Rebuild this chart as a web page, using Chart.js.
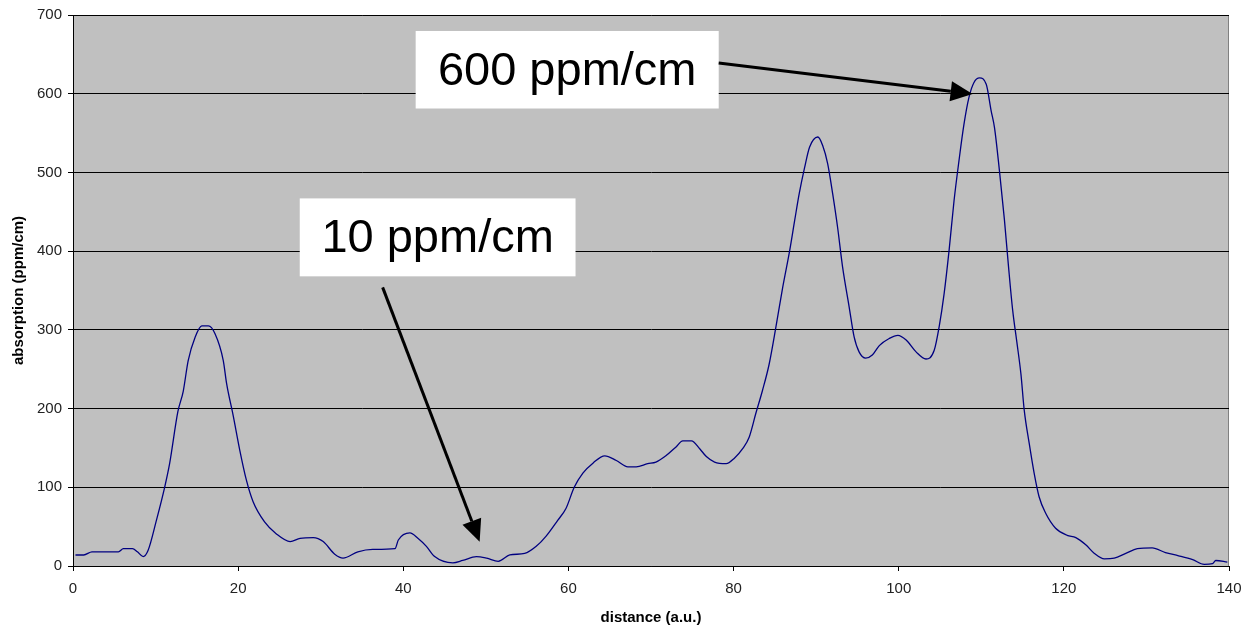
<!DOCTYPE html>
<html>
<head>
<meta charset="utf-8">
<script src="https://cdn.jsdelivr.net/npm/chart.js@4.4.0/dist/chart.umd.min.js"></script>
<style>
    html, body { margin: 0; padding: 0; background: #fff; }
    #wrap { width: 1243px; height: 627px; }
</style>
</head>
<body>
<div id="wrap"><canvas id="absChart" width="1243" height="627"></canvas></div>
<script>
// ============================================
// DATOS
// ============================================

const distance = [
    0.3, 1.3, 2.3, 5.5, 6.1, 7.2, 7.8, 8.5, 9.1, 10.1, 11.1, 11.7, 12.7, 13.35, 13.95,
    14.8, 15.6, 16.4, 17.2, 18.2, 18.6, 19.4, 20.2, 21.0, 21.8, 23.2, 24.6, 26.3,
    27.5, 29.1, 30.3, 31.7, 32.7, 34.5, 36.3, 39.0, 39.4, 40.8, 41.8, 42.8, 43.8,
    46.0, 47.2, 48.85, 50.1, 51.5, 52.9, 54.7, 56.1, 57.3, 58.7, 59.7, 60.7, 61.75,
    63.0, 64.4, 65.8, 67.2, 68.2, 69.6, 70.6, 71.8, 73.0, 73.85, 74.9, 75.9, 76.7,
    77.7, 79.1, 80.1, 81.1, 81.9, 82.7, 83.5, 84.3, 85.15, 85.95, 86.8, 87.4, 87.95,
    88.6, 89.2, 90.2, 90.8, 91.4, 92.0, 92.6, 93.2, 94.0, 94.6, 95.2, 96.0, 96.8,
    97.65, 98.85, 99.9, 100.9, 102.1, 103.3, 104.3, 104.9, 105.5, 106.1, 106.7,
    107.3, 107.9, 108.5, 109.1, 109.8, 110.6, 111.2, 111.6, 112.2, 112.8, 113.3,
    113.8, 114.3, 114.8, 115.2, 115.8, 116.4, 117.0, 117.8, 119.0, 120.4, 121.45,
    122.65, 123.7, 124.9, 126.1, 127.5, 128.9, 130.7, 132.3, 133.9, 135.6, 137.0,
    138.0, 138.4, 139.8
];

const absorption = [
    14, 14, 18, 18, 22, 22, 18, 12, 20, 58, 100, 130, 196, 222, 261,
    291, 305, 305, 295, 261, 232, 191, 147, 109, 82, 56, 41, 31,
    35, 36, 31, 15, 10, 18, 21, 22, 33, 42, 35, 25, 12,
    4, 7, 12, 10, 6, 14, 16, 25, 38, 58, 73, 100, 118,
    131, 140, 134, 126, 126, 130, 132, 140, 151, 159, 159, 149, 139,
    132, 130, 137, 149, 164, 194, 223, 256, 305, 354, 401, 439, 473,
    506, 532, 545, 534, 511, 473, 430, 380, 329, 291, 272, 264, 268,
    280, 289, 293, 287, 272, 263, 274, 304, 346, 401, 464,
    515, 561, 595, 614, 620, 612, 578, 557, 502, 440, 380,
    325, 285, 244, 198, 156, 118, 88, 67, 48, 39, 36,
    27, 16, 9, 10, 16, 22, 23, 17, 13, 8, 2,
    3, 7, 5
];

const xTicks = [0, 20, 40, 60, 80, 100, 120, 140];
const yTicks = [0, 100, 200, 300, 400, 500, 600, 700];

const xTitle = 'distance (a.u.)';
const yTitle = 'absorption (ppm/cm)';

// Notas: cajas y flechas en coordenadas de datos
const callouts = [
    { text: '600 ppm/cm', box: [41.5, 679.7, 78.2, 581.2], from: [78.2, 639], to: [108.95, 599.7] },
    { text: '10 ppm/cm', box: [27.46, 467, 60.86, 368], from: [37.5, 354], to: [49.25, 30.8] }
];

const FONT = '"Liberation Sans", Arial, sans-serif';

// ============================================
// PLUGINS
// ============================================

const plotBackground = {
    id: 'plotBackground',
    beforeDraw(chart) {
        const { ctx, chartArea: a } = chart;
        ctx.save();
        ctx.fillStyle = '#c0c0c0';
        ctx.fillRect(a.left, a.top, a.right - a.left, a.bottom - a.top);
        ctx.strokeStyle = '#808080';
        ctx.lineWidth = 1;
        ctx.strokeRect(a.left + 0.5, a.top + 0.5, a.right - a.left - 1, a.bottom - a.top);
        ctx.restore();
    }
};

function drawArrow(ctx, x1, y1, x2, y2) {
    const ang = Math.atan2(y2 - y1, x2 - x1);
    const len = 22, half = 10;
    const bx = x2 - len * Math.cos(ang);
    const by = y2 - len * Math.sin(ang);
    ctx.beginPath();
    ctx.moveTo(x1, y1);
    ctx.lineTo(bx, by);
    ctx.stroke();
    ctx.beginPath();
    ctx.moveTo(x2, y2);
    ctx.lineTo(bx + half * Math.sin(ang), by - half * Math.cos(ang));
    ctx.lineTo(bx - half * Math.sin(ang), by + half * Math.cos(ang));
    ctx.closePath();
    ctx.fill();
}

const calloutPlugin = {
    id: 'callouts',
    afterDatasetsDraw(chart) {
        const { ctx, scales: { x, y } } = chart;
        ctx.save();
        callouts.forEach(c => {
            const l = x.getPixelForValue(c.box[0]);
            const t = y.getPixelForValue(c.box[1]);
            const r = x.getPixelForValue(c.box[2]);
            const b = y.getPixelForValue(c.box[3]);
            ctx.fillStyle = '#ffffff';
            ctx.fillRect(l, t, r - l, b - t);
            ctx.fillStyle = '#000000';
            ctx.font = '47px ' + FONT;
            ctx.textAlign = 'center';
            ctx.textBaseline = 'middle';
            ctx.fillText(c.text, (l + r) / 2, (t + b) / 2 + 2);

            ctx.strokeStyle = '#000000';
            ctx.lineWidth = 3;
            drawArrow(ctx,
                x.getPixelForValue(c.from[0]), y.getPixelForValue(c.from[1]),
                x.getPixelForValue(c.to[0]), y.getPixelForValue(c.to[1]));
        });
        ctx.restore();
    }
};

// ============================================
// GRÁFICO
// ============================================

const points = distance.map((d, i) => ({ x: d, y: absorption[i] }));

new Chart(document.getElementById('absChart'), {
    type: 'line',
    data: {
        datasets: [{
            data: points,
            borderColor: '#000080',
            borderWidth: 1.3,
            pointRadius: 0,
            fill: false,
            cubicInterpolationMode: 'monotone'
        }]
    },
    options: {
        responsive: false,
        animation: false,
        events: [],
        layout: { padding: { top: 14, right: 14, left: 6, bottom: 0 } },
        plugins: {
            legend: { display: false },
            tooltip: { enabled: false }
        },
        scales: {
            x: {
                type: 'linear',
                min: 0,
                max: 140,
                afterBuildTicks: s => { s.ticks = xTicks.map(v => ({ value: v })); },
                afterFit: s => {
                    s.height = 61;
                    s.paddingLeft = 0;
                    s.paddingRight = 0;
                },
                ticks: {
                    color: '#222',
                    font: { family: FONT, size: 15 },
                    padding: 9,
                    maxRotation: 0
                },
                grid: {
                    drawOnChartArea: false,
                    drawTicks: true,
                    tickLength: 5,
                    color: '#000'
                },
                border: { color: '#000', width: 1 },
                title: {
                    display: true,
                    text: xTitle,
                    color: '#000',
                    font: { family: FONT, size: 15, weight: 'bold' },
                    padding: { top: 12, bottom: 0 }
                }
            },
            y: {
                min: 0,
                max: 700,
                afterBuildTicks: s => { s.ticks = yTicks.map(v => ({ value: v })); },
                afterFit: s => { s.width = 67; },
                ticks: {
                    color: '#222',
                    font: { family: FONT, size: 15 },
                    padding: 6
                },
                grid: {
                    color: '#000',
                    lineWidth: 1,
                    drawTicks: true,
                    tickLength: 5
                },
                border: { color: '#000', width: 1 },
                title: {
                    display: true,
                    text: yTitle,
                    color: '#000',
                    font: { family: FONT, size: 15, weight: 'bold' },
                    padding: { bottom: 4 }
                }
            }
        }
    },
    plugins: [plotBackground, calloutPlugin]
});
</script>
</body>
</html>
